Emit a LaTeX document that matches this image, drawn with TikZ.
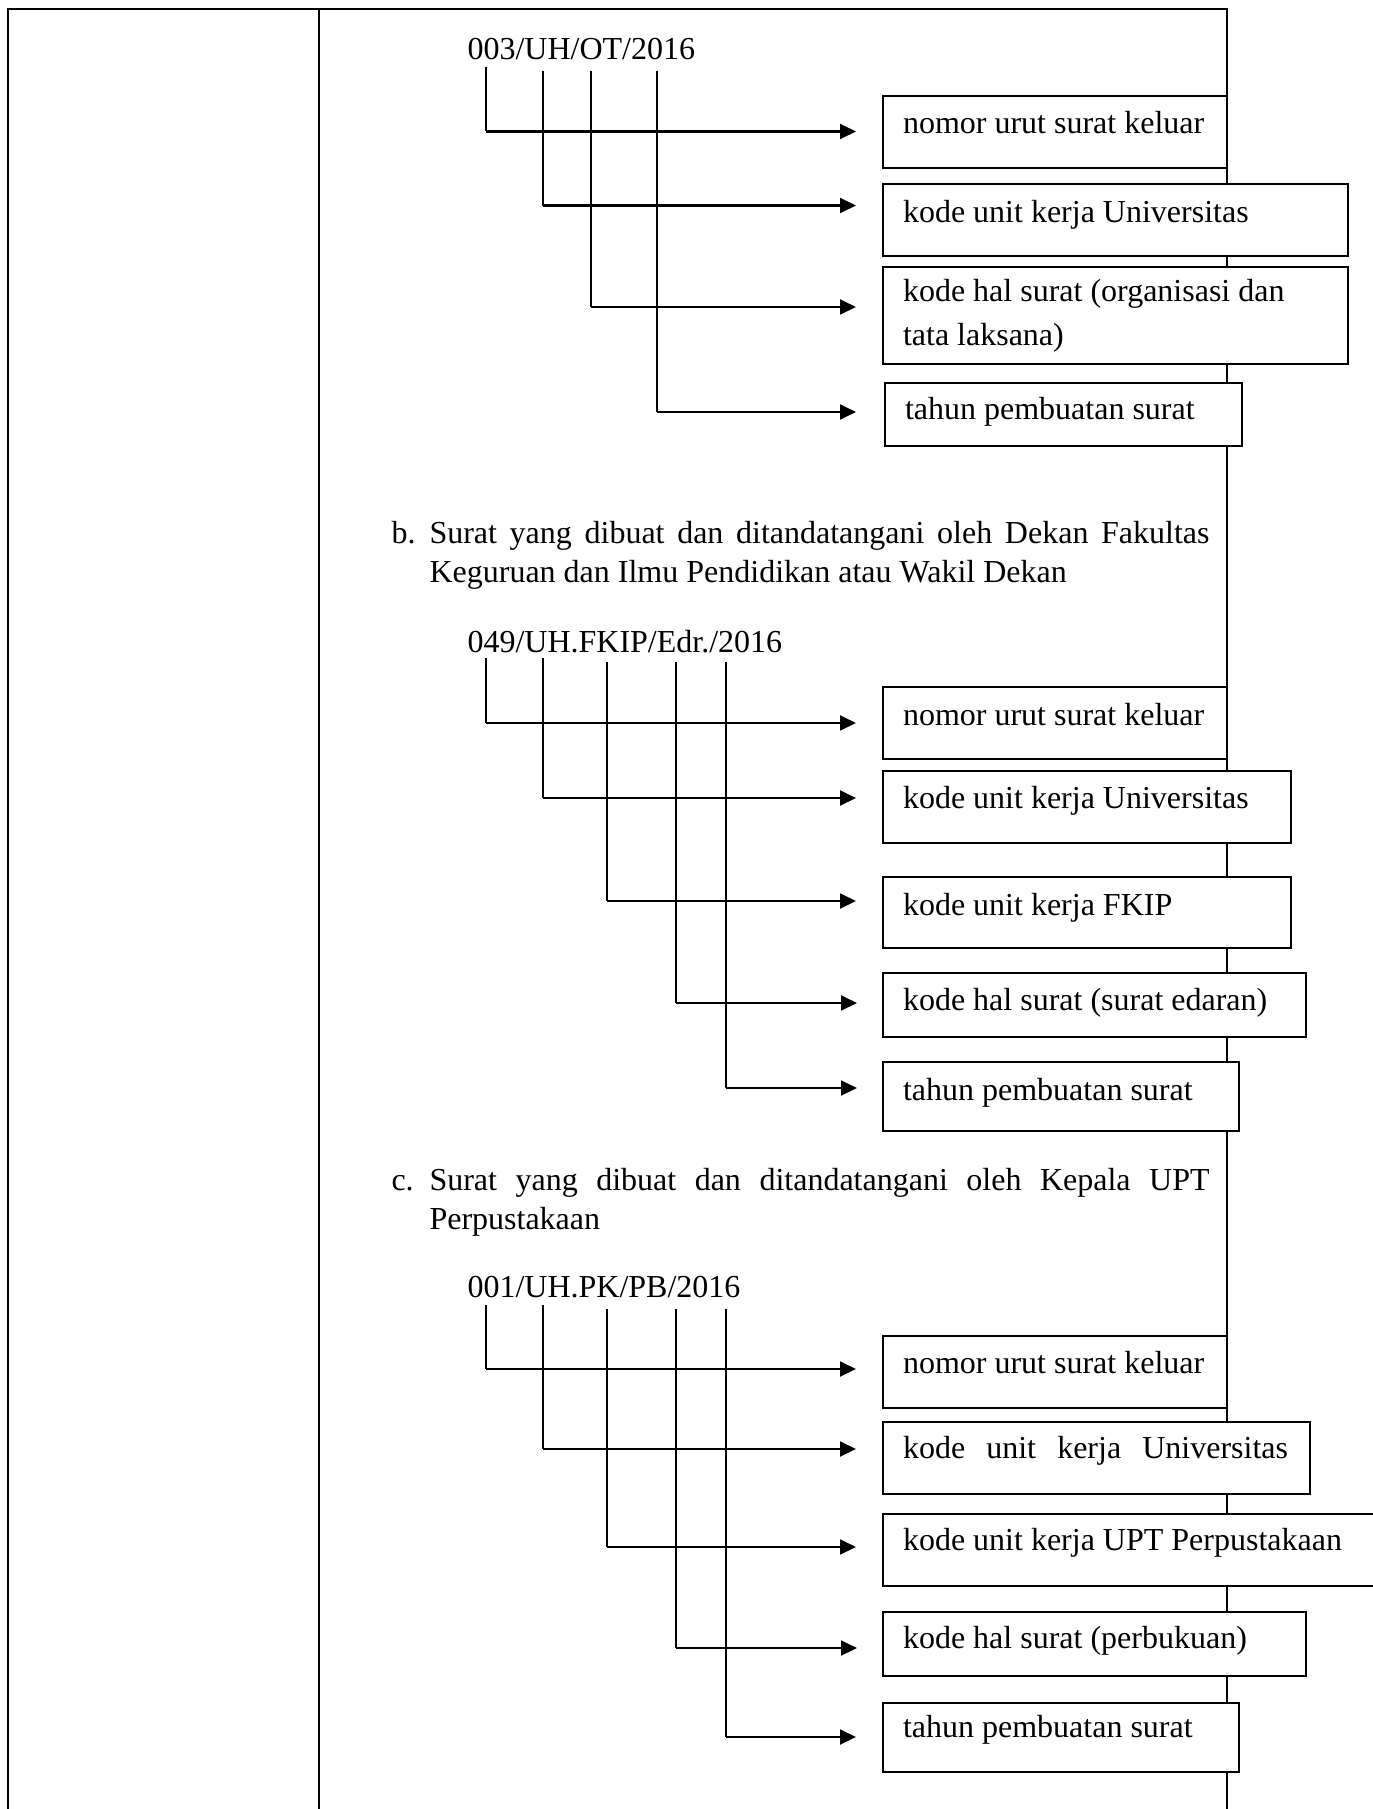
\documentclass[tikz,border=0pt]{standalone}
\usepackage{fontspec}
\setmainfont{Liberation Serif}
\usetikzlibrary{arrows.meta}

\begin{document}
\begin{tikzpicture}[
    x=0.375pt, y=-0.375pt,
    every node/.style={execute at begin node={\spaceskip=0pt\xspaceskip=0pt}},
    frame/.style={line width=0.5pt},
    codetext/.style={anchor=base west, inner sep=0pt, font=\fontsize{12}{14.8}\selectfont},
    para/.style={anchor=base west, inner sep=0pt, text width=292.5pt, align=left, font=\fontsize{12}{14.8}\selectfont},
    infobox/.style={draw, fill=white, line width=0.75pt, anchor=north west, inner xsep=7.5pt, inner ysep=0pt, outer sep=0pt, align=left, font=\fontsize{12}{16.5}\selectfont},
    drop/.style={line width=0.5pt},
    arrow/.style={-{Triangle[length=6pt, width=5.6pt]}, line width=0.8pt}
]
    \useasboundingbox (0,0) rectangle (1373,1809);

    % table lines
    \draw[frame] (8,1809) -- (8,9) -- (1227,9) -- (1227,1809);
    \draw[frame] (319,9) -- (319,1809);

    % a. code of the rector's letter
    \node[codetext] (codeA) at (467,60) {003/UH/OT/2016};

    \node[infobox, text width=114pt, text height=13.9pt, text depth=13.1pt] (a1) at (883,96) {nomor urut surat keluar};
    \node[infobox, text width=159.4pt, text height=14.25pt, text depth=12.75pt] (a2) at (883,184) {kode unit kerja Universitas};
    \node[infobox, text width=159.4pt, minimum height=36.4pt] (a3) at (883,267) {kode hal surat (organisasi dan\\tata laksana)};
    \node[infobox, text width=118.9pt, text height=13.5pt, text depth=10.1pt] (a4) at (885,383) {tahun pembuatan surat};

    \coordinate (a1t) at (486,67);  \coordinate (a1e) at (856,131.5);
    \coordinate (a2t) at (543,71);  \coordinate (a2e) at (856,205.5);
    \coordinate (a3t) at (591,71);  \coordinate (a3e) at (856,307);
    \coordinate (a4t) at (657,71);  \coordinate (a4e) at (856,412);

    \draw[drop] (a1t) -- (a1t |- a1e);
    \draw[drop] (a2t) -- (a2t |- a2e);
    \draw[drop] (a3t) -- (a3t |- a3e);
    \draw[drop] (a4t) -- (a4t |- a4e);
    \draw[arrow] (a1t |- a1e) -- (a1e);
    \draw[arrow] (a2t |- a2e) -- (a2e);
    \draw[arrow] (a3t |- a3e) -- (a3e);
    \draw[arrow] (a4t |- a4e) -- (a4e);

    % b. letter of the dean
    \node[codetext] (itemB) at (391,543.5) {b.};
    \node[para] (paraB) at (429,543.5) {\makebox[292.5pt][s]{Surat yang dibuat dan ditandatangani oleh Dekan Fakultas}\\Keguruan dan Ilmu Pendidikan atau Wakil Dekan};
    \node[codetext] (codeB) at (467,652) {049/UH.FKIP/Edr./2016};

    \node[infobox, text width=114pt, text height=14.25pt, text depth=12.75pt] (b1) at (883,687) {nomor urut surat keluar};
    \node[infobox, text width=138pt, text height=13.9pt, text depth=13.1pt] (b2) at (883,771) {kode unit kerja Universitas};
    \node[infobox, text width=138pt, text height=14.25pt, text depth=12.4pt] (b3) at (883,877) {kode unit kerja FKIP};
    \node[infobox, text width=143.6pt, text height=13.9pt, text depth=10.1pt] (b4) at (883,973) {kode hal surat (surat edaran)};
    \node[infobox, text width=118.5pt, text height=14.6pt, text depth=11.25pt] (b5) at (883,1062) {tahun pembuatan surat};

    \coordinate (b1t) at (486,658);  \coordinate (b1e) at (856,723);
    \coordinate (b2t) at (543,658);  \coordinate (b2e) at (856,798);
    \coordinate (b3t) at (607,662);  \coordinate (b3e) at (856,901);
    \coordinate (b4t) at (676,662);  \coordinate (b4e) at (857,1003);
    \coordinate (b5t) at (726,662);  \coordinate (b5e) at (857,1088);

    \draw[drop] (b1t) -- (b1t |- b1e);
    \draw[drop] (b2t) -- (b2t |- b2e);
    \draw[drop] (b3t) -- (b3t |- b3e);
    \draw[drop] (b4t) -- (b4t |- b4e);
    \draw[drop] (b5t) -- (b5t |- b5e);
    \draw[arrow] (b1t |- b1e) -- (b1e);
    \draw[arrow] (b2t |- b2e) -- (b2e);
    \draw[arrow] (b3t |- b3e) -- (b3e);
    \draw[arrow] (b4t |- b4e) -- (b4e);
    \draw[arrow] (b5t |- b5e) -- (b5e);

    % c. letter of the library head
    \node[codetext] (itemC) at (391,1190) {c.};
    \node[para] (paraC) at (429,1190) {\makebox[292.5pt][s]{Surat yang dibuat dan ditandatangani oleh Kepala UPT}\\Perpustakaan};
    \node[codetext] (codeC) at (467,1297) {001/UH.PK/PB/2016};

    \node[infobox, text width=114pt, text height=13.9pt, text depth=13.1pt] (c1) at (883,1336) {nomor urut surat keluar};
    \node[infobox, text width=145pt, text height=13.5pt, text depth=13.5pt] (c2) at (883,1422) {\makebox[144.4pt][s]{kode unit kerja Universitas}};
    \node[infobox, text width=180pt, text height=13.5pt, text depth=13.5pt] (c3) at (883,1514) {kode unit kerja UPT Perpustakaan};
    \node[infobox, text width=143.6pt, text height=13.5pt, text depth=10.5pt] (c4) at (883,1612) {kode hal surat (perbukuan)};
    \node[infobox, text width=118.5pt, text height=13.1pt, text depth=12.75pt] (c5) at (883,1703) {tahun pembuatan surat};

    \coordinate (c1t) at (486,1305);  \coordinate (c1e) at (856,1369);
    \coordinate (c2t) at (543,1305);  \coordinate (c2e) at (856,1449);
    \coordinate (c3t) at (607,1309);  \coordinate (c3e) at (856,1547);
    \coordinate (c4t) at (676,1309);  \coordinate (c4e) at (857,1648);
    \coordinate (c5t) at (726,1309);  \coordinate (c5e) at (856,1737);

    \draw[drop] (c1t) -- (c1t |- c1e);
    \draw[drop] (c2t) -- (c2t |- c2e);
    \draw[drop] (c3t) -- (c3t |- c3e);
    \draw[drop] (c4t) -- (c4t |- c4e);
    \draw[drop] (c5t) -- (c5t |- c5e);
    \draw[arrow] (c1t |- c1e) -- (c1e);
    \draw[arrow] (c2t |- c2e) -- (c2e);
    \draw[arrow] (c3t |- c3e) -- (c3e);
    \draw[arrow] (c4t |- c4e) -- (c4e);
    \draw[arrow] (c5t |- c5e) -- (c5e);
\end{tikzpicture}
\end{document}
